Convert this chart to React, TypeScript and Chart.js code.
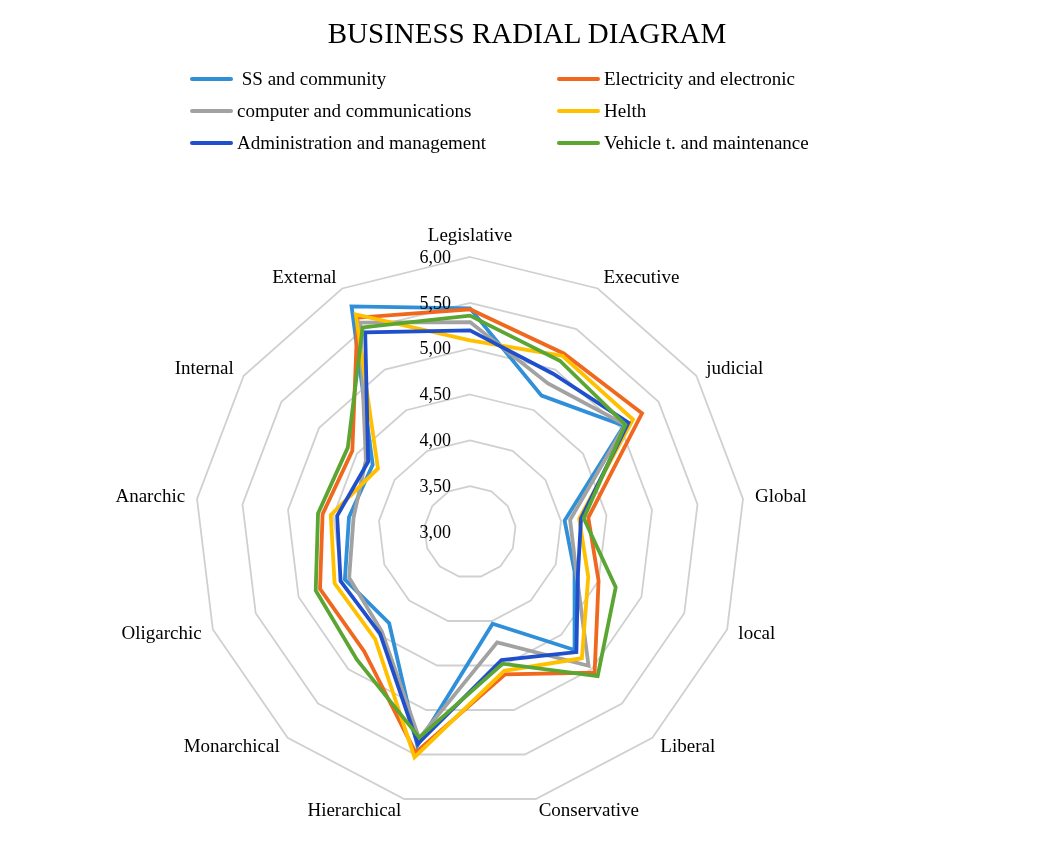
import React, { useEffect, useRef } from "react";
import { Chart, registerables } from "chart.js";

Chart.register(...registerables);

const categories = [
  "Legislative", "Executive", "judicial", "Global", "local", "Liberal", "Conservative",
  "Hierarchical", "Monarchical", "Oligarchic", "Anarchic", "Internal", "External",
];

const ssCommunity = [5.44, 4.68, 5.04, 4.04, 4.22, 4.72, 4.03, 5.40, 4.33, 4.46, 4.33, 4.29, 5.78];
const electricity = [5.43, 5.20, 5.28, 4.30, 4.50, 5.05, 4.60, 5.48, 4.74, 4.75, 4.62, 4.56, 5.64];
const computer = [5.29, 4.83, 5.06, 4.10, 4.24, 4.95, 4.24, 5.32, 4.45, 4.41, 4.28, 4.38, 5.58];
const health = [5.09, 5.17, 5.16, 4.20, 4.38, 4.84, 4.56, 5.53, 4.56, 4.58, 4.53, 4.22, 5.68];
const administration = [5.20, 4.95, 5.10, 4.22, 4.26, 4.75, 4.44, 5.38, 4.48, 4.51, 4.46, 4.35, 5.46];
const vehicle = [5.36, 5.11, 5.06, 4.25, 4.70, 5.10, 4.48, 5.31, 4.86, 4.80, 4.67, 4.62, 5.52];

const seriesNames = [
  " SS and community",
  "Electricity and electronic",
  "computer and communications",
  "Helth",
  "Administration and management",
  "Vehicle t. and maintenance",
];
const seriesValues = [ssCommunity, electricity, computer, health, administration, vehicle];
const seriesColors = ["#2F8FD8", "#F0671E", "#A2A2A2", "#FFC000", "#1F4FCB", "#5BA532"];

const tickValues = [3, 3.5, 4, 4.5, 5, 5.5, 6];
const tickLabels = ["3,00", "3,50", "4,00", "4,50", "5,00", "5,50", "6,00"];

const titleText = "BUSINESS RADIAL DIAGRAM";
const SERIF = "'Liberation Serif', 'Times New Roman', serif";

const textPlugin = {
  id: "radarText",
  afterDraw(chart: any) {
    const scale = chart.scales.r;
    const ctx = chart.ctx as CanvasRenderingContext2D;
    const R = scale.drawingArea;
    ctx.save();
    ctx.fillStyle = "#000000";
    ctx.font = `19px ${SERIF}`;
    categories.forEach((label, i) => {
      const p = scale.getPointPosition(i, R + 12);
      const a = scale.getIndexAngle(i);
      const s = Math.sin(a);
      const c = Math.cos(a);
      if (Math.abs(s) < 0.05) {
        ctx.textAlign = "center";
        ctx.textBaseline = c > 0 ? "bottom" : "top";
        ctx.fillText(label, p.x, p.y + (c > 0 ? 1 : 0));
      } else {
        ctx.textAlign = s > 0 ? "left" : "right";
        ctx.textBaseline = "middle";
        ctx.fillText(label, p.x, p.y);
      }
    });
    ctx.font = `18px ${SERIF}`;
    ctx.textAlign = "right";
    ctx.textBaseline = "middle";
    tickValues.forEach((v, i) => {
      const d = scale.getDistanceFromCenterForValue(v);
      ctx.fillText(tickLabels[i], scale.xCenter - 19, scale.yCenter - d + 1);
    });
    ctx.restore();
  },
};

export default function App() {
  const canvasRef = useRef<HTMLCanvasElement | null>(null);

  useEffect(() => {
    if (!canvasRef.current) return;
    const chart = new Chart(canvasRef.current, {
      type: "radar",
      data: {
        labels: categories,
        datasets: seriesNames.map((name, i) => ({
          label: name,
          data: seriesValues[i],
          borderColor: seriesColors[i],
          backgroundColor: "transparent",
          borderWidth: 3.8,
          borderJoinStyle: "miter" as const,
          pointRadius: 0,
          pointHoverRadius: 0,
          fill: false,
          tension: 0,
          order: seriesNames.length - i,
        })),
      },
      options: {
        animation: false,
        responsive: false,
        maintainAspectRatio: false,
        layout: { padding: { left: 187, top: 249, right: 297, bottom: 51 } },
        plugins: {
          legend: { display: false },
          title: { display: false },
          tooltip: { enabled: false },
        },
        scales: {
          r: {
            min: 3,
            max: 6,
            ticks: { display: false, stepSize: 0.5 },
            pointLabels: { display: false },
            angleLines: { display: false },
            grid: { color: "#D0D0D0", lineWidth: 1.8 },
          },
        },
      },
      plugins: [textPlugin],
    });
    return () => chart.destroy();
  }, []);

  const rowTops = [71, 103, 135];
  const cols = [
    { lineLeft: 182, textLeft: 229 },
    { lineLeft: 549, textLeft: 596 },
  ];

  return (
    <div style={{ position: "relative", width: 1034, height: 850, background: "#ffffff", fontFamily: SERIF }}>
      <canvas ref={canvasRef} width={1034} height={850} style={{ position: "absolute", left: 0, top: 0 }} />
      <div
        style={{
          position: "absolute",
          left: 0,
          top: 0,
          width: 1038,
          height: 50,
          lineHeight: "50px",
          textAlign: "center",
          fontSize: 29,
          color: "#000",
        }}
      >
        {titleText}
      </div>
      {seriesNames.map((name, i) => {
        const col = cols[i % 2];
        const y = rowTops[Math.floor(i / 2)];
        return (
          <React.Fragment key={name}>
            <div
              style={{
                position: "absolute",
                left: col.lineLeft,
                top: y - 2,
                width: 43,
                height: 4,
                borderRadius: 2,
                background: seriesColors[i],
              }}
            />
            <div
              style={{
                position: "absolute",
                left: col.textLeft,
                top: y - 12,
                height: 24,
                lineHeight: "24px",
                fontSize: 19,
                whiteSpace: "pre",
                color: "#000",
              }}
            >
              {name}
            </div>
          </React.Fragment>
        );
      })}
    </div>
  );
}
